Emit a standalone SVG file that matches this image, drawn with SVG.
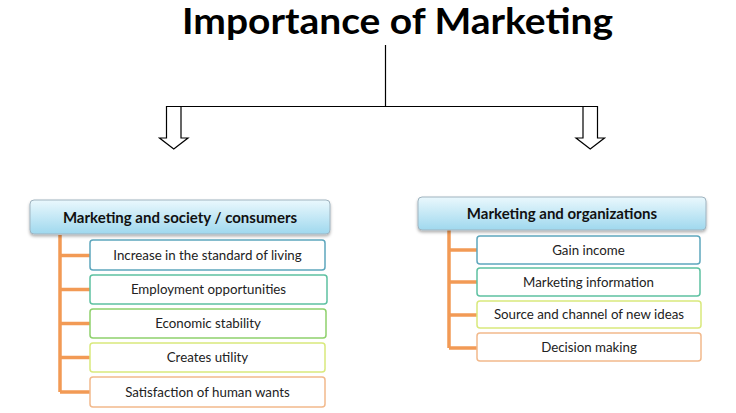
<svg xmlns="http://www.w3.org/2000/svg" width="736" height="413" viewBox="0 0 736 413">
<defs>
<linearGradient id="hdr" x1="0" y1="0" x2="0" y2="1">
<stop offset="0" stop-color="#eaf8fd"/>
<stop offset="1" stop-color="#9fd8ee"/>
</linearGradient>
<filter id="sh" x="-5%" y="-20%" width="110%" height="150%">
<feDropShadow dx="0" dy="2" stdDeviation="1.5" flood-color="#000" flood-opacity="0.3"/>
</filter>
</defs>
<style>
.title{font-family:Lato,"Open Sans",sans-serif;font-weight:bold;font-size:36px;fill:#000}
.hdr{fill:url(#hdr);stroke:#9fb3bf;stroke-width:1}
.htxt{font-family:Lato,"Open Sans",sans-serif;font-weight:bold;font-size:15px;fill:#111;text-anchor:middle}
.item{fill:#fff;stroke-width:1.5}
.itxt{font-family:Lato,"Open Sans",sans-serif;font-size:13.3px;fill:#222;text-anchor:middle}
.ln{stroke:#000;stroke-width:1.2;fill:none}
.arr{fill:#fff;stroke:#000;stroke-width:1.2}
.or{stroke:#f29a55;stroke-width:3.5;fill:none}
.c1{stroke:#5ea7bd}.c2{stroke:#5dc1a1}.c3{stroke:#8ed16c}.c4{stroke:#d9e97c}.c5{stroke:#f2b98c}
</style>
<rect width="736" height="413" fill="#fff"/>
<g id="title">
<text class="title" x="182" y="33.5" textLength="431" lengthAdjust="spacingAndGlyphs">Importance of Marketing</text>
</g>
<g id="connectors">
<path class="ln" d="M385.5 45 V106.5 M181 106.5 H583"/>
<path class="arr" d="M166.5 106.5 H181 V138 H188 L173.75 149 L159.5 138 H166.5 Z"/>
<path class="arr" d="M583 106.5 H597.5 V138 H604.5 L590.25 149 L576 138 H583 Z"/>
<path class="or" d="M60 235 V392 M60 255.5 H90 M60 289.5 H90 M60 323.5 H90 M60 357.5 H90 M60 392 H90"/>
<path class="or" d="M449 230 V348 M449 250 H477 M449 282 H477 M449 315 H477 M449 348 H477"/>
</g>
<g id="left-header">
<rect class="hdr" x="30" y="200" width="300" height="34" rx="4" filter="url(#sh)"/>
<text class="htxt" x="180" y="222.5">Marketing and society / consumers</text>
</g>
<g id="left-1">
<rect class="item c1" x="90" y="240" width="235" height="30" rx="3"/>
<text class="itxt" x="207.5" y="259.5">Increase in the standard of living</text>
</g>
<g id="left-2">
<rect class="item c2" x="90" y="275" width="237" height="29" rx="3"/>
<text class="itxt" x="208.5" y="294">Employment opportunities</text>
</g>
<g id="left-3">
<rect class="item c3" x="90" y="309" width="236" height="29" rx="3"/>
<text class="itxt" x="208" y="328">Economic stability</text>
</g>
<g id="left-4">
<rect class="item c4" x="90" y="343" width="235" height="29" rx="3"/>
<text class="itxt" x="207.5" y="362">Creates utility</text>
</g>
<g id="left-5">
<rect class="item c5" x="90" y="377" width="235" height="30" rx="3"/>
<text class="itxt" x="207.5" y="396.5">Satisfaction of human wants</text>
</g>
<g id="right-header">
<rect class="hdr" x="418" y="197" width="288" height="33" rx="4" filter="url(#sh)"/>
<text class="htxt" x="562" y="219">Marketing and organizations</text>
</g>
<g id="right-1">
<rect class="item c1" x="477" y="236" width="223" height="28" rx="3"/>
<text class="itxt" x="588.5" y="254.5">Gain income</text>
</g>
<g id="right-2">
<rect class="item c2" x="477" y="268" width="223" height="28" rx="3"/>
<text class="itxt" x="588.5" y="286.5">Marketing information</text>
</g>
<g id="right-3">
<rect class="item c4" x="477" y="301" width="224" height="27" rx="3"/>
<text class="itxt" x="589" y="319">Source and channel of new ideas</text>
</g>
<g id="right-4">
<rect class="item c5" x="477" y="333" width="224" height="28" rx="3"/>
<text class="itxt" x="589" y="351.5">Decision making</text>
</g>
</svg>
